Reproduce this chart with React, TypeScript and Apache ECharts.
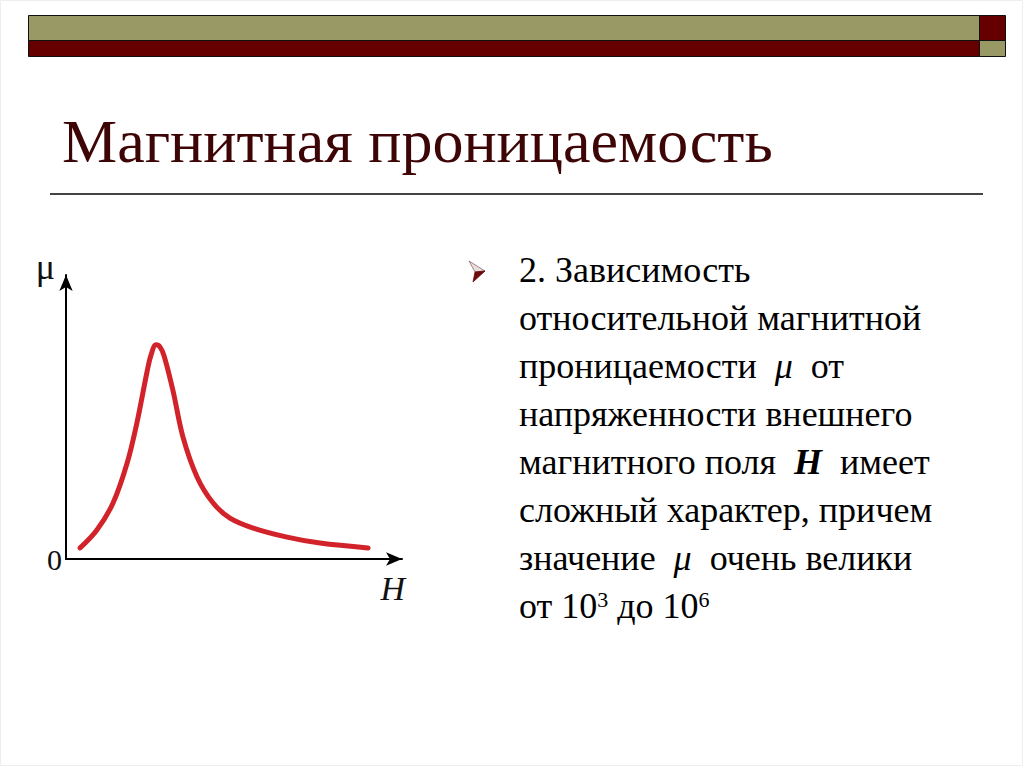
import { useEffect, useRef } from 'react';
import * as echarts from 'echarts';

// curve: H and mu in arbitrary units (0..100 on both axes)
const fieldH = [4.2, 9.2, 14.0, 18.2, 21.1, 24.1, 25.3, 26.8, 28.0, 29.2, 31.8, 34.8, 39.0, 43.8, 48.8, 55.7, 65.8, 75.6, 89.9];
const permeability = [3.9, 10.2, 19.7, 33.8, 47.9, 65.8, 71.8, 75.4, 74.6, 71.5, 59.5, 43.0, 28.9, 19.7, 14.4, 10.9, 7.7, 5.6, 3.9];

const title = 'Магнитная проницаемость';
const bodyLines = [
    '{n|2. Зависимость}',
    '{n|относительной магнитной}',
    '{n|проницаемости  }{i|μ}{n|  от}',
    '{n|напряженности внешнего}',
    '{n|магнитного поля  }{b|H}{n|  имеет}',
    '{n|сложный характер, причем}',
    '{n|значение  }{i|μ}{n|  очень велики}',
    '{n|от 10}{s|3}{n| до 10}{s|6}',
];

const SERIF = 'Times New Roman';
const OLIVE = '#999966';
const MAROON = '#660000';

export default function App() {
    const ref = useRef<HTMLDivElement | null>(null);

    useEffect(() => {
        if (!ref.current) return;
        let chart: echarts.ECharts | null = null;
        let cancelled = false;

        const draw = () => {
            if (cancelled || !ref.current) return;
            chart = echarts.init(ref.current, null, { renderer: 'svg' });
            const tok = { fontFamily: SERIF, fontSize: 36 };
            const richStyles = {
                n: { ...tok },
                i: { ...tok, fontStyle: 'italic' },
                b: { ...tok, fontStyle: 'italic', fontWeight: 'bold' },
                s: { fontFamily: SERIF, fontSize: 22, verticalAlign: 'top' }
            };

            chart.setOption({
                animation: false,
                title: {
                    text: title, left: 62, top: 110, padding: 0,
                    textStyle: { fontFamily: SERIF, fontSize: 62, fontWeight: 'normal', color: '#3d0505' }
                },
                grid: { left: 66, top: 275, width: 336, height: 284 },
                xAxis: {
                    type: 'value', min: 0, max: 100,
                    name: 'H', nameLocation: 'end', nameGap: 3,
                    nameTextStyle: {
                        fontFamily: SERIF, fontStyle: 'italic', fontSize: 34, color: '#111',
                        align: 'right', verticalAlign: 'top', padding: [12, 0, 0, 0]
                    },
                    axisLine: { symbol: ['none', 'arrow'], symbolSize: [10, 16], lineStyle: { color: '#000', width: 2 } },
                    axisTick: { show: false }, axisLabel: { show: false }, splitLine: { show: false }
                },
                yAxis: {
                    type: 'value', min: 0, max: 100, interval: 100,
                    name: 'μ', nameLocation: 'end', nameGap: 8,
                    nameTextStyle: {
                        fontFamily: SERIF, fontSize: 36, color: '#111',
                        align: 'right', verticalAlign: 'middle', padding: [0, 11, 0, 0]
                    },
                    axisLine: { show: true, symbol: ['none', 'arrow'], symbolSize: [10, 16], lineStyle: { color: '#000', width: 2 } },
                    axisTick: { show: false }, splitLine: { show: false },
                    axisLabel: {
                        formatter: (v: number) => (v === 0 ? '0' : ''),
                        fontFamily: SERIF, fontSize: 30, color: '#111', margin: 4, padding: [16, 0, 0, 0]
                    }
                },
                series: [{
                    type: 'line',
                    data: fieldH.map((h, i) => [h, permeability[i]]),
                    smooth: 0.35,
                    showSymbol: false,
                    lineStyle: { color: '#d2232a', width: 5, cap: 'round' }
                }],
                graphic: [
                    // slide frame
                    { type: 'rect', shape: { x: 0.5, y: 0.5, width: 1022, height: 765 }, style: { fill: 'none', stroke: '#eeeeee', lineWidth: 1 }, silent: true },
                    // top decorative bar
                    { type: 'rect', shape: { x: 28.5, y: 15.5, width: 951, height: 25 }, style: { fill: OLIVE, stroke: '#111', lineWidth: 1 } },
                    { type: 'rect', shape: { x: 979.5, y: 15.5, width: 26, height: 25 }, style: { fill: MAROON, stroke: '#111', lineWidth: 1 } },
                    { type: 'rect', shape: { x: 28.5, y: 40.5, width: 951, height: 16 }, style: { fill: MAROON, stroke: '#111', lineWidth: 1 } },
                    { type: 'rect', shape: { x: 979.5, y: 40.5, width: 26, height: 16 }, style: { fill: OLIVE, stroke: '#111', lineWidth: 1 } },
                    // rule under the title
                    { type: 'line', shape: { x1: 50, y1: 194, x2: 983, y2: 194 }, style: { stroke: '#444', lineWidth: 2 } },
                    // bullet arrowhead
                    { type: 'polygon', shape: { points: [[469, 261], [485, 271], [475, 272]] }, style: { fill: '#e8dede', stroke: '#8a6a6a', lineWidth: 0.8 } },
                    { type: 'polygon', shape: { points: [[475, 272], [485, 271], [473, 282]] }, style: { fill: '#6b0a0a', stroke: '#6b0a0a', lineWidth: 0.8 } },
                    // body text, one element per line
                    ...bodyLines.map((line, i) => ({
                        type: 'text', x: 519, y: 252 + 48 * i,
                        style: { text: line, rich: richStyles }
                    }))
                ]
            });
        };

        const fonts = (document as any).fonts;
        if (fonts && fonts.load) {
            Promise.all([
                fonts.load(`62px "${SERIF}"`),
                fonts.load(`36px "${SERIF}"`),
                fonts.load(`italic 36px "${SERIF}"`),
                fonts.load(`italic bold 36px "${SERIF}"`)
            ]).catch(() => null).then(draw);
        } else {
            draw();
        }

        return () => {
            cancelled = true;
            if (chart) chart.dispose();
        };
    }, []);

    return <div ref={ref} style={{ position: 'fixed', left: 0, top: 0, width: 1024, height: 767, background: '#fff', fontFamily: SERIF }} />;
}
